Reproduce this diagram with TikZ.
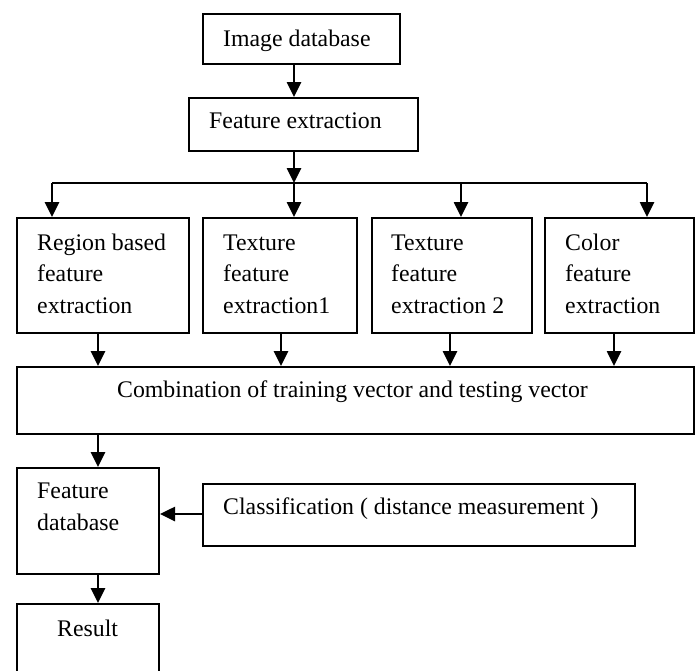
\documentclass[tikz,border=0pt]{standalone}
\usepackage{fontspec}
\setmainfont{Liberation Serif}
\usetikzlibrary{arrows.meta}
\begin{document}
\begin{tikzpicture}[x=1pt,y=-1pt,
  box/.style={draw, line width=2pt, rectangle, inner sep=0pt, anchor=north west},
  txt/.style={font=\fontsize{23.8}{31.5}\selectfont, inner sep=0pt, anchor=base west, align=left},
  arr/.style={line width=2.6pt, -{Triangle[length=15pt,width=14pt]}},
  ln/.style={line width=2.6pt}]
\path[use as bounding box] (0,0) rectangle (698,670);
\clip (0,0) rectangle (698,670);
% boxes
\node[box, minimum width=197pt, minimum height=50pt] (imgdb) at (202,13) {};
\node[box, minimum width=229pt, minimum height=53pt] (featx) at (188,97) {};
\node[box, minimum width=172pt, minimum height=115pt] (b1) at (16,217) {};
\node[box, minimum width=154pt, minimum height=115pt] (b2) at (202,217) {};
\node[box, minimum width=160pt, minimum height=115pt] (b3) at (371,217) {};
\node[box, minimum width=149pt, minimum height=115pt] (b4) at (544,217) {};
\node[box, minimum width=677pt, minimum height=67pt] (comb) at (16,366) {};
\node[box, minimum width=142pt, minimum height=106pt] (fdb) at (16,467) {};
\node[box, minimum width=432pt, minimum height=62pt] (cls) at (202,483) {};
\node[box, minimum width=142pt, minimum height=90pt] (res) at (16,603) {};
% texts (base anchor = baseline of last line)
\node[txt] (imgdbt) at (223,46) {Image database};
\node[txt] (featxt) at (209,128) {Feature extraction};
\node[txt] (b1t) at (37,313) {Region based\\feature\\extraction};
\node[txt] (b2t) at (223,313) {Texture\\feature\\extraction1};
\node[txt] (b3t) at (391,313) {Texture\\feature\\extraction 2};
\node[txt] (b4t) at (565,313) {Color\\feature\\extraction};
\node[txt] (combt) at (117,397) {Combination of training vector and testing vector};
\node[txt] (fdbt) at (37,530) {Feature\\database};
\node[txt] (clst) at (223,514) {Classification ( distance measurement )};
\node[txt] (rest) at (57,636) {Result};
% helper coordinates
\coordinate (c0) at (294,0);
\coordinate (split) at (294,183);
\coordinate (l1) at (52,183);
\coordinate (l3) at (461,183);
\coordinate (l4) at (647,183);
\coordinate (d1) at (98,0);
\coordinate (d2) at (281,0);
\coordinate (d3) at (450,0);
\coordinate (d4) at (614,0);
\coordinate (h) at (0,514);
% connectors
\draw[arr] (c0 |- imgdb.south) -- (c0 |- featx.north);
\draw[arr] (c0 |- featx.south) -- (split);
\draw[ln] (l1) -- (l4);
\draw[arr] (l1) -- (l1 |- b1.north);
\draw[arr] (split) -- (split |- b2.north);
\draw[arr] (l3) -- (l3 |- b3.north);
\draw[arr] (l4) -- (l4 |- b4.north);
\draw[arr] (d1 |- b1.south) -- (d1 |- comb.north);
\draw[arr] (d2 |- b2.south) -- (d2 |- comb.north);
\draw[arr] (d3 |- b3.south) -- (d3 |- comb.north);
\draw[arr] (d4 |- b4.south) -- (d4 |- comb.north);
\draw[arr] (d1 |- comb.south) -- (d1 |- fdb.north);
\draw[arr] (h -| cls.west) -- (h -| fdb.east);
\draw[arr] (d1 |- fdb.south) -- (d1 |- res.north);
\end{tikzpicture}
\end{document}
